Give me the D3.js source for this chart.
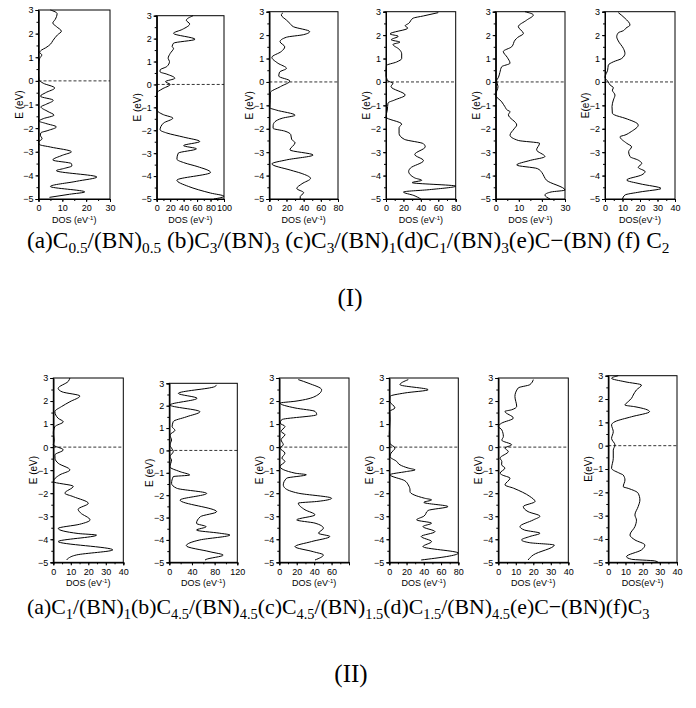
<!DOCTYPE html>
<html>
<head>
<meta charset="utf-8">
<script src="https://cdn.jsdelivr.net/npm/d3@7"></script>
<style>
  body { margin: 0; background: #fff; }
  svg { display: block; }
</style>
</head>
<body>
<div id="chart"></div>
<script>
// DOS curves, [E (eV), DOS (eV^-1)]
const dosIa = [[3.0,5],[2.85,7.8],[2.6,7],[2.45,6],[2.3,7.5],[2.1,9.6],[1.95,8],[1.7,6],[1.55,5],[1.4,3],[1.3,1.2],[1.2,0.5],[1.1,1.4],[0.95,0.5],[0.7,0.1],[0.3,0],[0.05,0.2],[-0.1,2],[-0.3,6.8],[-0.5,3],[-0.65,0.8],[-0.82,6.2],[-1.0,3],[-1.1,1],[-1.3,4],[-1.45,6.5],[-1.6,2],[-1.7,0.2],[-1.8,3],[-1.95,7.5],[-2.1,4],[-2.2,1],[-2.3,0.8],[-2.45,1.5],[-2.6,0],[-2.7,0.5],[-2.8,5],[-3.0,13.8],[-3.15,10],[-3.35,6],[-3.5,13.8],[-3.6,14],[-3.7,11],[-3.8,7.5],[-4.07,24.5],[-4.25,16],[-4.47,5],[-4.7,19.4],[-4.8,13],[-4.93,4.6]];
const dosIb = [[3,54],[2.8,44],[2.64,49],[2.4,38],[2.23,25],[1.97,57],[1.8,25],[1.65,23],[1.58,25],[1.35,20],[1.14,17],[1.0,19],[0.78,15],[0.63,5],[0.55,5],[0.45,15],[0.27,27],[0.12,13],[0.0,20],[-0.2,8],[-0.38,0],[-0.7,0],[-1.1,0],[-1.32,10],[-1.47,24],[-1.69,10],[-1.98,5],[-2.12,15],[-2.3,40],[-2.49,64],[-2.67,40],[-2.81,59],[-3.0,32],[-3.26,30],[-3.43,42],[-3.58,60],[-3.84,80],[-4.18,30],[-4.45,47],[-4.74,80],[-4.88,100],[-5,85]];
const dosIc = [[2.96,16],[2.86,14],[2.64,20],[2.5,24],[2.36,28],[2.15,47],[2.02,40],[1.91,20],[1.72,12.5],[1.5,18],[1.3,14],[1.05,3],[0.8,10],[0.58,20],[0.42,12],[0.25,11],[0.04,24],[-0.2,13],[-0.46,1.2],[-0.8,1],[-1.1,0.5],[-1.2,8],[-1.42,30],[-1.55,15],[-1.7,6.6],[-1.85,4.5],[-1.98,4.4],[-2.1,18],[-2.25,25],[-2.45,26],[-2.6,30],[-2.9,24],[-3.12,51],[-3.33,20],[-3.5,3],[-3.77,25],[-3.9,37],[-4.12,48],[-4.35,38],[-4.55,32],[-4.73,40],[-4.9,36],[-5,36]];
const dosId = [[2.96,60],[2.82,43],[2.72,31],[2.5,26],[2.4,22],[2.3,25],[2.05,4.6],[1.95,14],[1.8,6],[1.7,16],[1.6,8],[1.4,15],[1.2,18],[1.0,18],[0.85,12],[0.7,0.5],[0.3,0],[0.04,2.3],[-0.05,8],[-0.2,5.8],[-0.56,22],[-0.77,10],[-0.9,2.3],[-1.2,1.5],[-1.5,0],[-1.8,18],[-1.95,15],[-2.2,15],[-2.45,21],[-2.64,43],[-2.77,45],[-3.1,33],[-3.36,43],[-3.68,28],[-3.82,26],[-4.1,33],[-4.2,41],[-4.3,30],[-4.45,80],[-4.6,50],[-4.7,20],[-4.85,32],[-5,40]];
const dosIe = [[3,12.7],[2.86,16.3],[2.64,13.4],[2.36,9.8],[2.07,12],[1.9,9.5],[1.79,8.4],[1.5,6.9],[1.3,3.3],[1.05,5],[0.8,6.2],[0.65,2.6],[0.4,1.8],[0.2,1.2],[0.05,0.4],[-0.2,1],[-0.56,0],[-0.85,2.6],[-1.06,4],[-1.2,5],[-1.27,6.2],[-1.4,5.5],[-1.84,9.1],[-2.0,8],[-2.27,6.2],[-2.5,9.8],[-2.62,19],[-2.9,17.7],[-3.19,21.3],[-3.35,15],[-3.55,9.1],[-3.7,18],[-3.87,20],[-4.05,21],[-4.2,22],[-4.62,30],[-4.7,24],[-4.83,21.3],[-5,23.5]];
const dosIf = [[2.96,7.6],[2.72,11.4],[2.43,14.3],[2.3,12],[2.19,10.5],[2.1,7.6],[1.93,6.7],[1.75,7.6],[1.43,10.5],[1.22,11.4],[1.0,9.5],[0.86,4.8],[0.72,1.9],[0.5,1.5],[0.2,0],[0,1.9],[-0.13,2.9],[-0.25,4.8],[-0.35,4.2],[-0.56,5.7],[-0.77,4.8],[-1.05,4],[-1.34,4.2],[-1.41,5.5],[-1.55,11.4],[-1.84,19],[-2.12,15],[-2.27,11.4],[-2.34,8.6],[-2.62,12.4],[-2.77,15.2],[-2.98,13.5],[-3.19,14.3],[-3.34,19],[-3.48,21],[-3.65,19],[-3.83,22.9],[-3.97,21],[-4.19,12.4],[-4.35,20],[-4.55,32],[-4.7,20],[-4.83,11.4],[-5,10]];

const dosIIa = [[3,9.5],[2.85,8.5],[2.55,2.8],[2.4,5],[2.22,15.2],[1.97,9.5],[1.76,4.7],[1.54,0.9],[1.25,2.8],[1.1,5.7],[0.89,0.9],[0.6,0],[0.3,0.5],[0.1,0],[-0.12,5.7],[-0.34,0.9],[-0.5,1],[-0.7,2.8],[-0.99,9.5],[-1.2,3.8],[-1.5,0],[-1.7,11.4],[-2.0,6.6],[-2.15,11.4],[-2.44,20],[-2.7,14.2],[-2.85,15.5],[-3.16,21],[-3.35,15],[-3.53,2.8],[-3.75,14.2],[-3.82,24.7],[-4.1,2.8],[-4.46,34],[-4.68,13.3],[-4.83,8.5],[-4.9,7.6]];
const dosIIb = [[2.93,83.5],[2.85,80],[2.55,16],[2.33,49],[2.03,1.2],[1.73,54],[1.5,30],[1.29,7],[1.06,5],[0.9,10],[0.69,1],[0.47,4],[0.24,1],[0.1,4],[-0.05,7],[-0.28,1],[-0.43,4],[-0.73,1],[-0.95,19],[-1.1,36],[-1.17,7],[-1.47,4],[-1.69,13],[-1.92,66],[-2.22,19],[-2.74,83.5],[-2.96,55],[-3.26,48],[-3.41,65],[-3.56,48],[-3.7,89],[-3.78,107],[-4.0,54],[-4.26,30],[-4.53,72],[-4.68,95],[-4.87,65],[-4.9,63]];
const dosIIc = [[2.93,21.8],[2.78,33],[2.49,48.6],[2.2,41],[1.99,18],[1.91,0.8],[1.7,18],[1.55,41],[1.41,43],[1.19,2.7],[1.04,1],[0.9,6.5],[0.68,2],[0.54,6.5],[0.32,2],[0.1,4.6],[-0.04,0.8],[-0.26,6.5],[-0.48,3],[-0.62,6.5],[-0.84,0.8],[-1.13,18],[-1.2,31],[-1.35,8.4],[-1.64,4.6],[-1.78,6.5],[-2.0,21.8],[-2.22,60],[-2.36,43],[-2.43,21.8],[-2.72,29.5],[-2.94,41],[-3.16,20],[-3.3,41],[-3.52,50.6],[-3.74,45],[-3.88,58],[-4.1,37],[-4.32,18],[-4.54,39],[-4.68,50.6],[-4.9,41]];
const dosIId = [[2.93,22],[2.71,12.4],[2.49,45],[2.35,18],[2.2,0.8],[1.99,0.5],[1.7,6.6],[1.55,0.5],[1.19,0.8],[0.6,0],[0.17,0.5],[-0.04,6.6],[-0.26,2],[-0.41,0.8],[-0.62,8.5],[-0.77,12.4],[-0.91,22],[-0.99,30],[-1.06,20],[-1.2,0.8],[-1.46,18],[-1.64,22],[-1.86,24],[-1.93,24],[-2.22,41],[-2.29,49],[-2.4,40],[-2.58,68],[-2.75,45],[-3.0,40],[-3.16,31.7],[-3.3,49],[-3.45,39],[-3.67,53],[-3.88,37],[-4.1,49],[-4.32,39],[-4.6,80],[-4.9,37]];
const dosIIe = [[2.93,20],[2.71,18],[2.57,11.4],[2.2,9.5],[1.77,10.5],[1.62,7.6],[1.55,3.8],[1.26,8.6],[1.04,1.9],[0.9,0],[0.75,2],[0.46,2.9],[0.3,2],[0.1,7.6],[-0.04,3.8],[-0.19,5.7],[-0.48,1],[-0.62,2],[-0.77,1.9],[-0.91,3.8],[-1.13,1],[-1.2,2],[-1.35,6.7],[-1.64,3.8],[-1.78,8.6],[-2.14,18],[-2.36,21],[-2.58,14.3],[-2.8,17],[-3.0,23.8],[-3.16,20],[-3.45,12.4],[-3.6,15],[-3.74,23.8],[-3.88,18],[-4.03,13.3],[-4.15,18],[-4.25,32],[-4.68,20],[-4.9,17]];
const dosIIf = [[3,5.8],[2.89,1.9],[2.74,9.7],[2.6,19.3],[2.39,16.4],[2.17,14.5],[2.03,13.5],[1.89,11.6],[1.74,9.7],[1.67,15.5],[1.46,24],[1.24,13.5],[1.03,3.9],[0.89,1.9],[0.6,2.9],[0.31,1.9],[0.03,3.9],[-0.19,2.9],[-0.54,2.9],[-0.97,1.9],[-1.19,6.8],[-1.26,8.7],[-1.47,9.7],[-1.76,8.7],[-1.83,11.6],[-2.04,17.4],[-2.33,18.4],[-2.61,17.4],[-2.97,15.5],[-3.19,16.4],[-3.47,15.5],[-3.83,12.6],[-4.04,15.5],[-4.26,21.3],[-4.47,19.3],[-4.76,10.6],[-4.87,13.5],[-4.94,27],[-5,29]];

// axis ranges / tick labels
const energyTicks = [-5, -4, -3, -2, -1, 0, 1, 2, 3];
const dosMaxTop = [30, 100, 80, 80, 30, 40];
const dosTicksTop = [[0,10,20,30],[0,20,40,60,80,100],[0,20,40,60,80],[0,20,40,60,80],[0,10,20,30],[0,10,20,30,40]];
const dosMaxBottom = [40, 120, 80, 80, 40, 40];
const dosTicksBottom = [[0,10,20,30,40],[0,40,80,120],[0,20,40,60],[0,20,40,60,80],[0,10,20,30,40],[0,10,20,30,40]];
const seriesTop = [dosIa, dosIb, dosIc, dosId, dosIe, dosIf];
const seriesBottom = [dosIIa, dosIIb, dosIIc, dosIId, dosIIe, dosIIf];

// frame geometry (pixels)
const frameTop = [
  {x0: 38.5, x1: 110, y0: 10, y1: 199},
  {x0: 156.7, x1: 224, y0: 15.7, y1: 199},
  {x0: 269.3, x1: 338, y0: 11.7, y1: 199},
  {x0: 386, x1: 455.7, y0: 11.7, y1: 199},
  {x0: 495.7, x1: 565, y0: 11.7, y1: 199},
  {x0: 605, x1: 675, y0: 11.7, y1: 199}
];
const frameBottom = [
  {x0: 53.3, x1: 123.3, y0: 378, y1: 562.3},
  {x0: 169.3, x1: 237.3, y0: 383.3, y1: 562.3},
  {x0: 279.3, x1: 349, y0: 378, y1: 562.3},
  {x0: 389.3, x1: 458.3, y0: 378, y1: 562.3},
  {x0: 498.3, x1: 568.3, y0: 378, y1: 562.3},
  {x0: 608.3, x1: 677, y0: 375.7, y1: 562.3}
];

const svg = d3.select("#chart").append("svg")
  .attr("width", 696)
  .attr("height", 708);

const sans = "'Liberation Sans', Arial, sans-serif";
const serif = "'Liberation Serif', 'Times New Roman', serif";

function drawPanel(data, f, dmax, dticks, tight) {
  const g = svg.append("g");
  const x = d3.scaleLinear().domain([0, dmax]).range([f.x0, f.x1]);
  const y = d3.scaleLinear().domain([-5, 3]).range([f.y1, f.y0]);

  // minor ticks
  const step = dticks[1] - dticks[0];
  const minorX = d3.range(0, dmax + 0.001, step / 2);
  const minorY = d3.range(-5, 3.001, 0.5);

  const yAxis = d3.axisLeft(y).tickValues(energyTicks).tickSize(3).tickPadding(2);
  const yMinor = d3.axisLeft(y).tickValues(minorY).tickSize(2).tickFormat("");
  const xAxis = d3.axisBottom(x).tickValues(dticks).tickSize(3).tickPadding(3);
  const xMinor = d3.axisBottom(x).tickValues(minorX).tickSize(2).tickFormat("");

  g.append("g").attr("transform", `translate(${f.x0},0)`).call(yMinor);
  g.append("g").attr("transform", `translate(${f.x0},0)`).call(yAxis);
  g.append("g").attr("transform", `translate(0,${f.y1})`).call(xMinor);
  g.append("g").attr("transform", `translate(0,${f.y1})`).call(xAxis);

  g.selectAll(".domain").attr("stroke", "#000");
  g.selectAll(".tick line").attr("stroke", "#000");
  g.selectAll(".tick text")
    .attr("font-family", sans)
    .attr("font-size", 9)
    .attr("fill", "#000");

  // box
  g.append("rect")
    .attr("x", f.x0).attr("y", f.y0)
    .attr("width", f.x1 - f.x0).attr("height", f.y1 - f.y0)
    .attr("fill", "none").attr("stroke", "#000").attr("stroke-width", 1);

  // fermi level
  g.append("line")
    .attr("x1", f.x0).attr("x2", f.x1)
    .attr("y1", y(0)).attr("y2", y(0))
    .attr("stroke", "#000").attr("stroke-width", 0.8)
    .attr("stroke-dasharray", "3,2");

  const line = d3.line()
    .x(d => x(d[1]))
    .y(d => y(d[0]))
    .curve(d3.curveMonotoneY);

  g.append("path")
    .datum(data)
    .attr("d", line)
    .attr("fill", "none")
    .attr("stroke", "#000")
    .attr("stroke-width", 1);

  // axis titles
  g.append("text")
    .attr("transform", `translate(${f.x0 - 16},${(f.y0 + f.y1) / 2}) rotate(-90)`)
    .attr("text-anchor", "middle")
    .attr("font-family", sans)
    .attr("font-size", 10)
    .text(tight ? "E(eV)" : "E (eV)");

  const xt = g.append("text")
    .attr("x", (f.x0 + f.x1) / 2)
    .attr("y", f.y1 + 24)
    .attr("text-anchor", "middle")
    .attr("font-family", sans)
    .attr("font-size", 9);
  xt.append("tspan").text(tight ? "DOS(eV" : "DOS (eV");
  xt.append("tspan").attr("dy", -3).attr("font-size", 6).text("-1");
  xt.append("tspan").attr("dy", 3).text(")");
}

seriesTop.forEach((s, i) => drawPanel(s, frameTop[i], dosMaxTop[i], dosTicksTop[i], i === 5));
seriesBottom.forEach((s, i) => drawPanel(s, frameBottom[i], dosMaxBottom[i], dosTicksBottom[i], i === 5));

// captions: [text, isSubscript]
const captionTop = [["(a)C",0],["0.5",1],["/(BN)",0],["0.5",1],[" (b)C",0],["3",1],["/(BN)",0],["3",1],[" (c)C",0],["3",1],["/(BN)",0],["1",1],["(d)C",0],["1",1],["/(BN)",0],["3",1],["(e)C\u2212(BN) (f) C",0],["2",1]];
const captionBottom = [["(a)C",0],["1",1],["/(BN)",0],["1",1],["(b)C",0],["4.5",1],["/(BN)",0],["4.5",1],["(c)C",0],["4.5",1],["/(BN)",0],["1.5",1],["(d)C",0],["1.5",1],["/(BN)",0],["4.5",1],["(e)C\u2212(BN)(f)C",0],["3",1]];

function caption(parts, x, y, size) {
  const t = svg.append("text")
    .attr("x", x).attr("y", y)
    .attr("font-family", serif)
    .attr("font-size", size);
  let down = false;
  parts.forEach(([s, sub]) => {
    const ts = t.append("tspan").text(s);
    if (sub && !down) { ts.attr("dy", size * 0.22).attr("font-size", size * 0.66); down = true; }
    else if (sub) { ts.attr("font-size", size * 0.66); }
    else if (down) { ts.attr("dy", -size * 0.22); down = false; }
  });
}

caption(captionTop, 27, 248, 23.3);
caption(captionBottom, 27, 614, 21.8);

svg.append("text")
  .attr("x", 350).attr("y", 306)
  .attr("text-anchor", "middle")
  .attr("font-family", serif)
  .attr("font-size", 25)
  .text("(I)");

svg.append("text")
  .attr("x", 351).attr("y", 682)
  .attr("text-anchor", "middle")
  .attr("font-family", serif)
  .attr("font-size", 25)
  .text("(II)");
</script>
</body>
</html>
